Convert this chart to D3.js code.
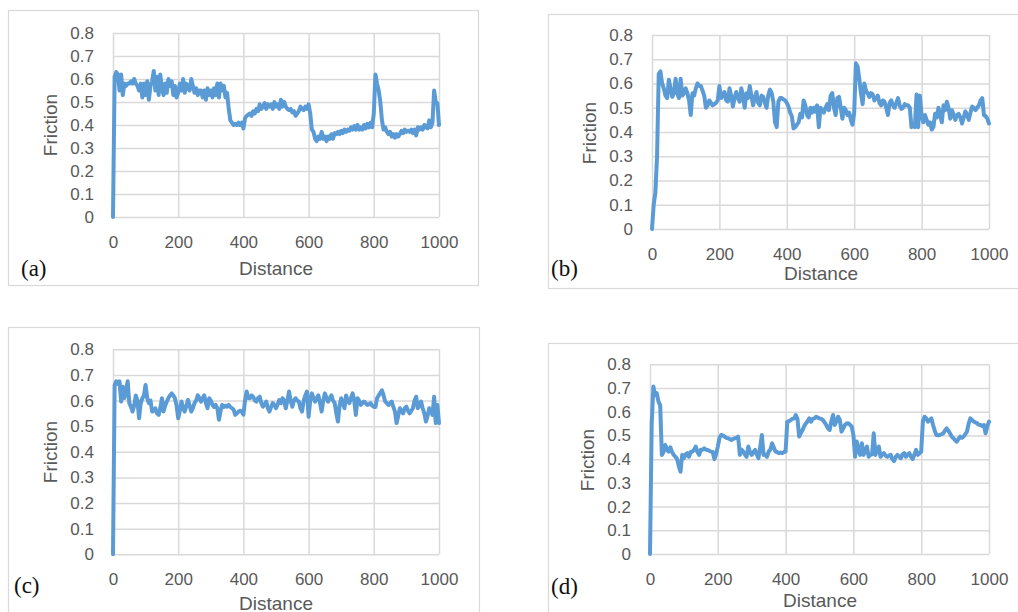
<!DOCTYPE html>
<html>
<head>
<meta charset="utf-8">
<script src="https://cdn.jsdelivr.net/npm/d3@7"></script>
<style>
  html, body { margin: 0; padding: 0; background: #fff; }
  svg { display: block; }
</style>
</head>
<body>
<svg id="chart" width="1018" height="612"></svg>
<script>
// Sliding distance, sampled every 5 units from 0 to 1000
const distance = d3.range(0, 1001, 5);

// Friction coefficient traces for the four test conditions
const frictionA = [
  0, 0.61, 0.63, 0.62, 0.55, 0.62, 0.53, 0.58, 0.57, 0.58,
  0.58, 0.59, 0.58, 0.60, 0.58, 0.57, 0.55, 0.58, 0.52, 0.58,
  0.53, 0.59, 0.51, 0.57, 0.59, 0.635, 0.55, 0.61, 0.53, 0.62,
  0.56, 0.53, 0.58, 0.54, 0.60, 0.57, 0.59, 0.53, 0.57, 0.52,
  0.54, 0.58, 0.55, 0.60, 0.54, 0.58, 0.56, 0.55, 0.60, 0.57,
  0.54, 0.56, 0.53, 0.55, 0.55, 0.52, 0.55, 0.51, 0.56, 0.53,
  0.55, 0.52, 0.56, 0.53, 0.58, 0.52, 0.58, 0.55, 0.57, 0.52,
  0.54, 0.47, 0.42, 0.41, 0.40, 0.405, 0.40, 0.41, 0.40, 0.41,
  0.385, 0.43, 0.44, 0.445, 0.45, 0.44, 0.46, 0.45, 0.47, 0.46,
  0.49, 0.47, 0.48, 0.495, 0.47, 0.49, 0.48, 0.49, 0.47, 0.50,
  0.48, 0.49, 0.47, 0.51, 0.48, 0.50, 0.48, 0.47, 0.465, 0.47,
  0.455, 0.46, 0.44, 0.45, 0.46, 0.48, 0.47, 0.465, 0.48, 0.47,
  0.49, 0.45, 0.38, 0.37, 0.34, 0.33, 0.35, 0.34, 0.37, 0.34,
  0.35, 0.33, 0.35, 0.34, 0.36, 0.34, 0.365, 0.36, 0.37, 0.36,
  0.375, 0.365, 0.38, 0.37, 0.38, 0.375, 0.39, 0.38, 0.395, 0.38,
  0.40, 0.38, 0.39, 0.38, 0.40, 0.385, 0.405, 0.39, 0.41, 0.39,
  0.45, 0.62, 0.58, 0.55, 0.50, 0.42, 0.38, 0.39, 0.37, 0.36,
  0.37, 0.35, 0.36, 0.345, 0.36, 0.35, 0.36, 0.375, 0.365, 0.38,
  0.37, 0.375, 0.37, 0.38, 0.365, 0.38, 0.355, 0.39, 0.38, 0.39,
  0.38, 0.40, 0.39, 0.385, 0.42, 0.39, 0.41, 0.55, 0.50, 0.495,
  0.40
];

const frictionB = [
  0, 0.10, 0.15, 0.30, 0.64, 0.65, 0.60, 0.58, 0.55, 0.54,
  0.615, 0.58, 0.545, 0.56, 0.62, 0.56, 0.54, 0.62, 0.55, 0.56,
  0.58, 0.56, 0.53, 0.47, 0.56, 0.55, 0.58, 0.60, 0.59, 0.59,
  0.57, 0.55, 0.50, 0.51, 0.53, 0.52, 0.51, 0.515, 0.52, 0.53,
  0.59, 0.54, 0.55, 0.565, 0.53, 0.525, 0.58, 0.55, 0.505, 0.54,
  0.565, 0.54, 0.525, 0.58, 0.55, 0.50, 0.56, 0.54, 0.59, 0.55,
  0.51, 0.54, 0.565, 0.52, 0.51, 0.55, 0.545, 0.52, 0.50, 0.55,
  0.575, 0.56, 0.525, 0.44, 0.42, 0.525, 0.54, 0.54, 0.535, 0.53,
  0.52, 0.505, 0.48, 0.465, 0.415, 0.42, 0.43, 0.44, 0.475, 0.46,
  0.53, 0.51, 0.47, 0.46, 0.50, 0.48, 0.50, 0.484, 0.51, 0.42,
  0.50, 0.49, 0.48, 0.50, 0.515, 0.49, 0.55, 0.56, 0.50, 0.47,
  0.54, 0.545, 0.50, 0.455, 0.50, 0.49, 0.47, 0.48, 0.45, 0.43,
  0.48, 0.683, 0.67, 0.62, 0.56, 0.515, 0.60, 0.57, 0.56, 0.545,
  0.56, 0.555, 0.53, 0.54, 0.55, 0.52, 0.51, 0.53, 0.525, 0.50,
  0.47, 0.52, 0.53, 0.51, 0.50, 0.52, 0.54, 0.51, 0.495, 0.50,
  0.515, 0.51, 0.51, 0.50, 0.42, 0.43, 0.42, 0.555, 0.42, 0.55,
  0.47, 0.44, 0.47, 0.45, 0.43, 0.44, 0.41, 0.42, 0.475, 0.46,
  0.50, 0.47, 0.44, 0.51, 0.49, 0.525, 0.50, 0.455, 0.49, 0.47,
  0.45, 0.47, 0.475, 0.46, 0.435, 0.46, 0.485, 0.47, 0.45, 0.48,
  0.505, 0.50, 0.49, 0.50, 0.51, 0.53, 0.54, 0.47, 0.465, 0.455,
  0.435
];

const frictionC = [
  0, 0.66, 0.675, 0.665, 0.675, 0.596, 0.654, 0.61, 0.64, 0.675,
  0.59, 0.576, 0.557, 0.58, 0.62, 0.60, 0.531, 0.59, 0.609, 0.62,
  0.661, 0.609, 0.59, 0.60, 0.557, 0.56, 0.57, 0.55, 0.544, 0.57,
  0.609, 0.557, 0.58, 0.596, 0.61, 0.62, 0.628, 0.62, 0.609, 0.58,
  0.531, 0.56, 0.596, 0.57, 0.557, 0.58, 0.602, 0.58, 0.557, 0.57,
  0.59, 0.60, 0.62, 0.61, 0.596, 0.61, 0.62, 0.59, 0.57, 0.609,
  0.60, 0.583, 0.575, 0.583, 0.57, 0.525, 0.56, 0.583, 0.575, 0.58,
  0.576, 0.583, 0.575, 0.57, 0.565, 0.544, 0.55, 0.557, 0.56, 0.557,
  0.545, 0.60, 0.635, 0.61, 0.609, 0.62, 0.615, 0.60, 0.596, 0.61,
  0.615, 0.59, 0.576, 0.585, 0.596, 0.57, 0.557, 0.575, 0.59, 0.583,
  0.57, 0.585, 0.602, 0.59, 0.609, 0.60, 0.57, 0.60, 0.635, 0.60,
  0.576, 0.60, 0.609, 0.60, 0.596, 0.57, 0.557, 0.60, 0.62, 0.635,
  0.537, 0.60, 0.628, 0.61, 0.596, 0.61, 0.62, 0.59, 0.557, 0.60,
  0.628, 0.61, 0.596, 0.61, 0.62, 0.60, 0.59, 0.55, 0.518, 0.58,
  0.609, 0.59, 0.57, 0.62, 0.60, 0.59, 0.61, 0.628, 0.60, 0.544,
  0.609, 0.60, 0.583, 0.59, 0.596, 0.59, 0.583, 0.585, 0.59, 0.58,
  0.576, 0.575, 0.609, 0.62, 0.63, 0.64, 0.62, 0.596, 0.59, 0.583,
  0.59, 0.596, 0.575, 0.557, 0.512, 0.54, 0.57, 0.56, 0.55, 0.57,
  0.576, 0.56, 0.55, 0.56, 0.57, 0.60, 0.615, 0.57, 0.58, 0.596,
  0.57, 0.55, 0.518, 0.54, 0.57, 0.56, 0.544, 0.615, 0.512, 0.583,
  0.512
];

const frictionD = [
  0, 0.55, 0.706, 0.67, 0.678, 0.643, 0.628, 0.418, 0.43, 0.46,
  0.44, 0.432, 0.45, 0.43, 0.418, 0.41, 0.40, 0.37, 0.347, 0.418,
  0.404, 0.42, 0.425, 0.41, 0.43, 0.432, 0.44, 0.453, 0.43, 0.418,
  0.44, 0.44, 0.446, 0.44, 0.439, 0.435, 0.432, 0.43, 0.40, 0.42,
  0.453, 0.49, 0.502, 0.50, 0.495, 0.49, 0.488, 0.485, 0.481, 0.485,
  0.488, 0.49, 0.495, 0.418, 0.44, 0.432, 0.42, 0.41, 0.453, 0.43,
  0.418, 0.43, 0.439, 0.42, 0.404, 0.45, 0.502, 0.418, 0.42, 0.41,
  0.432, 0.44, 0.467, 0.45, 0.432, 0.43, 0.425, 0.428, 0.425, 0.43,
  0.432, 0.558, 0.56, 0.565, 0.57, 0.572, 0.586, 0.57, 0.495, 0.51,
  0.523, 0.54, 0.551, 0.56, 0.572, 0.558, 0.57, 0.572, 0.579, 0.575,
  0.572, 0.57, 0.565, 0.555, 0.544, 0.53, 0.523, 0.56, 0.586, 0.544,
  0.56, 0.579, 0.565, 0.516, 0.53, 0.544, 0.55, 0.551, 0.545, 0.537,
  0.502, 0.41, 0.474, 0.44, 0.418, 0.467, 0.418, 0.44, 0.453, 0.41,
  0.418, 0.42, 0.509, 0.418, 0.44, 0.453, 0.41, 0.42, 0.425, 0.415,
  0.41, 0.415, 0.418, 0.40, 0.392, 0.41, 0.418, 0.41, 0.404, 0.42,
  0.425, 0.41, 0.42, 0.425, 0.41, 0.40, 0.42, 0.439, 0.418, 0.425,
  0.432, 0.56, 0.579, 0.572, 0.558, 0.565, 0.572, 0.544, 0.52, 0.502,
  0.50, 0.502, 0.505, 0.509, 0.52, 0.53, 0.52, 0.509, 0.495, 0.488,
  0.48, 0.474, 0.485, 0.495, 0.49, 0.495, 0.505, 0.516, 0.55, 0.572,
  0.565, 0.558, 0.555, 0.551, 0.545, 0.544, 0.54, 0.544, 0.509, 0.54,
  0.558
];

const panelLabels = ["(a)", "(b)", "(c)", "(d)"];
const xTicks = [0, 200, 400, 600, 800, 1000];
const yTicks = [0, 0.1, 0.2, 0.3, 0.4, 0.5, 0.6, 0.7, 0.8];
const xTitle = "Distance";
const yTitle = "Friction";

// Page layout of each sub-chart: outer frame, plot area, and text anchors
const layout = [
  { frame: [8, 10, 470, 275],   plot: [113, 439, 33, 217],
    yTitle: [50, 125],  xTitle: [276, 268], tag: [21, 268] },
  { frame: [548, 14, 500, 274], plot: [652, 989, 35, 229],
    yTitle: [589, 133], xTitle: [821, 273], tag: [551, 268] },
  { frame: [8, 327, 471, 300],  plot: [113, 439, 349.3, 554.3],
    yTitle: [50, 452],  xTitle: [276, 603], tag: [14, 585] },
  { frame: [548, 343, 500, 300], plot: [650, 989, 364.3, 554],
    yTitle: [587, 460], xTitle: [820, 600], tag: [551, 586] }
];
const series = [frictionA, frictionB, frictionC, frictionD];

const svg = d3.select("#chart");
const gridColor = "#d9d9d9";
const textColor = "#595959";
const lineColor = "#5b9bd5";
const sans = "'Liberation Sans', Arial, sans-serif";

series.forEach((values, i) => {
  const L = layout[i];
  const [l, r, t, b] = L.plot;
  const g = svg.append("g");

  g.append("rect")
    .attr("x", L.frame[0] + 0.5).attr("y", L.frame[1] + 0.5)
    .attr("width", L.frame[2]).attr("height", L.frame[3])
    .attr("fill", "#fff").attr("stroke", gridColor).attr("stroke-width", 1.2);

  const x = d3.scaleLinear().domain([0, 1000]).range([l, r]);
  const y = d3.scaleLinear().domain([0, 0.8]).range([b, t]);

  const yAxis = g.append("g")
    .attr("transform", `translate(${l},0)`)
    .call(d3.axisLeft(y).tickValues(yTicks).tickSize(-(r - l)).tickPadding(19)
      .tickFormat(d => d === 0 ? "0" : d3.format(".1f")(d)));
  const xAxis = g.append("g")
    .attr("transform", `translate(0,${b})`)
    .call(d3.axisBottom(x).tickValues(xTicks).tickSize(-(b - t)).tickPadding(19)
      .tickFormat(d3.format("d")));

  [yAxis, xAxis].forEach(ax => {
    ax.select(".domain").remove();
    ax.selectAll(".tick line").attr("stroke", gridColor).attr("stroke-width", 1.5);
    ax.selectAll(".tick text")
      .attr("fill", textColor).attr("font-family", sans).attr("font-size", 17);
  });

  const line = d3.line()
    .x((d, k) => x(distance[k]))
    .y(d => y(d));

  g.append("path")
    .datum(values)
    .attr("d", line)
    .attr("fill", "none")
    .attr("stroke", lineColor)
    .attr("stroke-width", 4)
    .attr("stroke-linejoin", "round")
    .attr("stroke-linecap", "round");

  g.append("text")
    .attr("transform", `translate(${L.yTitle[0]},${L.yTitle[1]}) rotate(-90)`)
    .attr("text-anchor", "middle").attr("dominant-baseline", "central")
    .attr("fill", textColor).attr("font-family", sans).attr("font-size", 19)
    .text(yTitle);

  g.append("text")
    .attr("x", L.xTitle[0]).attr("y", L.xTitle[1])
    .attr("text-anchor", "middle").attr("dominant-baseline", "central")
    .attr("fill", textColor).attr("font-family", sans).attr("font-size", 19)
    .text(xTitle);

  g.append("text")
    .attr("x", L.tag[0]).attr("y", L.tag[1])
    .attr("dominant-baseline", "central")
    .attr("fill", "#111").attr("font-family", "'Liberation Serif', 'Times New Roman', serif")
    .attr("font-size", 23)
    .text(panelLabels[i]);
});
</script>
</body>
</html>
